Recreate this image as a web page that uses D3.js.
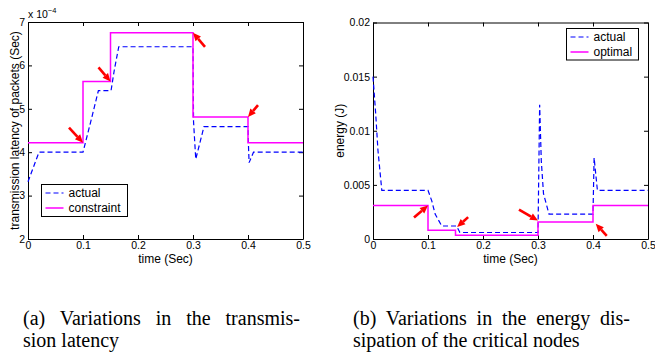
<!DOCTYPE html>
<html>
<head>
<meta charset="utf-8">
<script src="https://cdn.jsdelivr.net/npm/d3@7"></script>
<style>
  body { margin: 0; background: #fff; }
  svg { display: block; }
</style>
</head>
<body>
<svg id="chart" width="655" height="354"></svg>
<script>
// ---- data: (a) transmission latency, values in units of 1e-4 s
const timeTicks = [0, 0.1, 0.2, 0.3, 0.4, 0.5];
const latencyTicks = [2, 3, 4, 5, 6, 7];
const latencyActual = [
  [0, 3.32], [0.02, 4.0], [0.1, 4.0], [0.115, 4.75], [0.128, 5.42], [0.151, 5.42],
  [0.157, 5.9], [0.165, 6.43], [0.3, 6.43], [0.301, 4.7], [0.305, 3.84], [0.32, 4.59],
  [0.4, 4.59], [0.401, 4.1], [0.402, 3.76], [0.41, 4.0], [0.5, 4.0]
];
const latencyConstraint = [[0, 4.22], [0.1, 5.63], [0.15, 6.75], [0.3, 4.81], [0.4, 4.22], [0.5, 4.22]];
const latencyArrows = [[0.1, 4.22], [0.15, 5.63], [0.3, 6.75], [0.4, 4.81]];

// ---- data: (b) energy dissipation (J)
const energyTicks = [0, 0.005, 0.01, 0.015, 0.02];
const energyTickLabels = ["0", "0.005", "0.01", "0.015", "0.02"];
const energyActual = [
  [0, 0.015], [0.005, 0.0115], [0.009, 0.0082], [0.016, 0.0045], [0.1, 0.0045],
  [0.107, 0.0035], [0.113, 0.0023], [0.125, 0.0012], [0.152, 0.0012], [0.158, 0.0006],
  [0.3, 0.0006], [0.303, 0.0124], [0.306, 0.0072], [0.31, 0.0042], [0.32, 0.0023],
  [0.4, 0.0023], [0.402, 0.0075], [0.408, 0.0045], [0.5, 0.0045]
];
const energyOptimal = [[0, 0.0031], [0.1, 0.0008], [0.15, 0.00034], [0.3, 0.00157], [0.4, 0.0031], [0.5, 0.0031]];
const energyArrows = [[0.1, 0.0031], [0.153, 0.0011], [0.3, 0.0017], [0.405, 0.0014]];

const svg = d3.select("#chart");
const sans = "'Liberation Sans', Arial, sans-serif";
const blue = "#0000ff", magenta = "#ff00ff", red = "#ff0000";

function drawPanel(p) {
  const x = d3.scaleLinear().domain([0, 0.5]).range([p.left, p.right]);
  const y = d3.scaleLinear().domain(p.yDomain).range([p.bottom, p.top]);
  const g = svg.append("g");

  // matlab style box with inward ticks
  const axes = [
    [d3.axisBottom(x), p.bottom, true],
    [d3.axisTop(x), p.top, false]
  ];
  axes.forEach(([ax, pos, labels]) => {
    ax.tickValues(timeTicks).tickSizeInner(labels ? -4 : 4).tickSizeOuter(0).tickPadding(3)
      .tickFormat(labels ? d3.format("") : "");
    const a = g.append("g").attr("transform", "translate(0," + pos + ")").call(ax);
    if (!labels) a.selectAll(".tick line").attr("y2", 4);
  });
  const yl = d3.axisLeft(y).tickValues(p.yTicks).tickSizeInner(-4).tickSizeOuter(0).tickPadding(3)
    .tickFormat((d, i) => p.yLabels[i]);
  g.append("g").attr("transform", "translate(" + p.left + ",0)").call(yl);
  const yr = d3.axisRight(y).tickValues(p.yTicks).tickSizeInner(-4).tickSizeOuter(0).tickFormat("");
  g.append("g").attr("transform", "translate(" + p.right + ",0)").call(yr);

  g.selectAll(".domain").attr("stroke", "#000");
  g.selectAll(".tick line").attr("stroke", "#000");
  g.selectAll(".tick text").attr("font-family", sans).attr("font-size", 10.5).attr("fill", "#000");

  const line = d3.line().x(d => x(d[0])).y(d => y(d[1]));
  g.append("path").datum(p.actual)
    .attr("fill", "none").attr("stroke", blue).attr("stroke-width", 1.2)
    .attr("stroke-dasharray", "5,3").attr("d", line);
  g.append("path").datum(p.target)
    .attr("fill", "none").attr("stroke", magenta).attr("stroke-width", 1.5)
    .attr("d", line.curve(d3.curveStepAfter));

  // red arrows pointing at the switching points
  p.arrows.forEach((d, i) => {
    const hx = x(d[0]), hy = y(d[1]);
    const tx = hx + p.arrowTail[i][0], ty = hy + p.arrowTail[i][1];
    const len = Math.hypot(hx - tx, hy - ty);
    const ux = (hx - tx) / len, uy = (hy - ty) / len;
    const hl = 8, hw = 3.6;
    const bx = hx - ux * hl, by = hy - uy * hl;
    g.append("line").attr("x1", tx).attr("y1", ty).attr("x2", bx).attr("y2", by)
      .attr("stroke", red).attr("stroke-width", 2.6);
    g.append("path")
      .attr("d", "M" + hx + "," + hy + "L" + (bx - uy * hw) + "," + (by + ux * hw) +
        "L" + (bx + uy * hw) + "," + (by - ux * hw) + "Z")
      .attr("fill", red);
  });

  // axis labels
  g.append("text").attr("x", (p.left + p.right) / 2).attr("y", 263)
    .attr("text-anchor", "middle").attr("font-family", sans).attr("font-size", 12)
    .text("time (Sec)");
  g.append("text").attr("transform", "translate(" + p.yLabelX + "," + (p.top + p.bottom) / 2 + ") rotate(-90)")
    .attr("text-anchor", "middle").attr("dy", "0.35em").attr("font-family", sans).attr("font-size", 12)
    .text(p.yTitle);

  // legend
  const lg = g.append("g");
  lg.append("rect").attr("x", p.legend.x).attr("y", p.legend.y).attr("width", p.legend.w).attr("height", p.legend.h)
    .attr("fill", "#fff").attr("stroke", "#000").attr("stroke-width", 1);
  p.legendNames.forEach((name, i) => {
    const ly = p.legend.y + 8.5 + i * 15;
    lg.append("line").attr("x1", p.legend.x + 4).attr("x2", p.legend.x + 22).attr("y1", ly).attr("y2", ly)
      .attr("stroke", i === 0 ? blue : magenta).attr("stroke-width", i === 0 ? 1.2 : 1.5)
      .attr("stroke-dasharray", i === 0 ? "5,3" : null);
    lg.append("text").attr("x", p.legend.x + 27).attr("y", ly).attr("dy", "0.35em")
      .attr("font-family", sans).attr("font-size", 12).text(name);
  });
  return { x, y, g };
}

const a = drawPanel({
  left: 28, right: 303, top: 22, bottom: 239,
  yDomain: [2, 7], yTicks: latencyTicks, yLabels: latencyTicks.map(String),
  actual: latencyActual, target: latencyConstraint,
  arrows: latencyArrows, arrowTail: [[-14, -15], [-12, -14], [12, 14], [10, -12]],
  yTitle: "transmission latency of packets (Sec)", yLabelX: 15,
  legendNames: ["actual", "constraint"], legend: { x: 41.5, y: 184.5, w: 86, h: 32 }
});
// exponent marker
const ex = a.g.append("text").attr("x", 28).attr("y", 18).attr("font-family", sans).attr("font-size", 10.5);
ex.append("tspan").text("x 10");
ex.append("tspan").attr("dy", -5).attr("font-size", 7.5).text("\u22124");

drawPanel({
  left: 373, right: 648, top: 22.5, bottom: 239,
  yDomain: [0, 0.02], yTicks: energyTicks, yLabels: energyTickLabels,
  actual: energyActual, target: energyOptimal,
  arrows: energyArrows, arrowTail: [[-14, 12], [11, -10], [-19, -11], [11, 12]],
  yTitle: "energy (J)", yLabelX: 340,
  legendNames: ["actual", "optimal"], legend: { x: 566.5, y: 28.5, w: 72, h: 31.5 }
});

// captions (first line justified like the paper)
const serif = "'Liberation Serif', 'Times New Roman', serif";
function caption(x0, lines, width) {
  lines.forEach((s, i) => {
    const t = svg.append("text").attr("x", x0).attr("y", 325 + i * 21.5)
      .attr("font-family", serif).attr("font-size", 20).text(s);
    if (i === 0) {
      const w = t.node().getComputedTextLength();
      const n = (s.match(/ /g) || []).length;
      t.attr("word-spacing", Math.max(0, (width - w) / n));
    }
  });
}
caption(23, ["(a) Variations in the transmis-", "sion latency"], 277);
caption(353, ["(b) Variations in the energy dis-", "sipation of the critical nodes"], 277);
</script>
</body>
</html>
